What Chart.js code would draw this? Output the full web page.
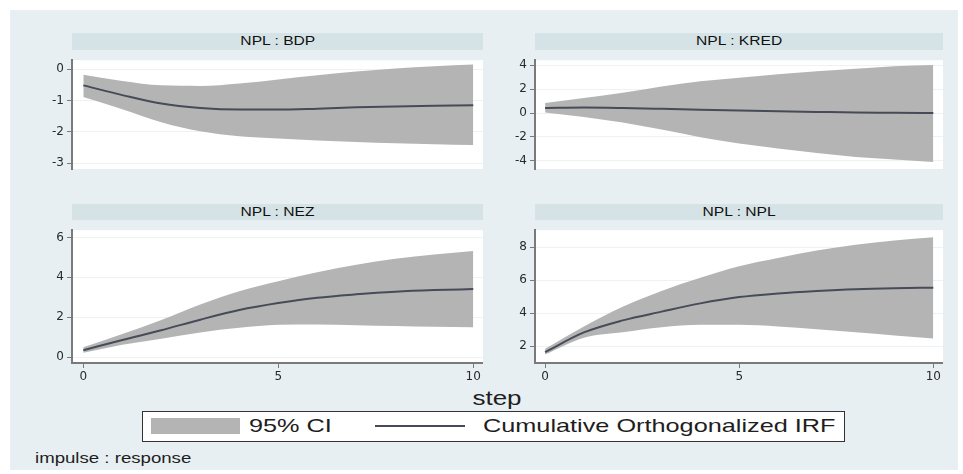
<!DOCTYPE html>
<html>
<head>
<meta charset="utf-8">
<script src="https://cdn.jsdelivr.net/npm/chart.js@4.4.1/dist/chart.umd.min.js"></script>
<style>
    html, body { margin: 0; padding: 0; background: #fff; }
    body { width: 963px; height: 474px; position: relative; overflow: hidden;
           font-family: "Liberation Sans", Arial, sans-serif; color: #1e1e1e; }
    #graph { position: absolute; left: 10px; top: 10px; width: 948px; height: 460px; background: #e8eff2; }
    canvas { position: absolute; }
    .band { position: absolute; background: #d6e3e6; text-align: center; font-size: 12px; color: #111; }
    .band span { display: inline-block; transform: scaleX(1.3); }
    .txt { position: absolute; white-space: nowrap; transform-origin: left center; }
</style>
</head>
<body>
<div id="graph"></div>
<div id="stage"></div>
<script>
'use strict';

// steps of the impulse response
const steps = [0, 1, 2, 3, 4, 5, 6, 7, 8, 9, 10];
const xTicks = [0, 5, 10];

// NPL : BDP
const bdpIrf = [-0.52, -0.83, -1.10, -1.24, -1.29, -1.29, -1.26, -1.22, -1.19, -1.17, -1.15];
const bdpLo = [-0.89, -1.28, -1.69, -1.98, -2.14, -2.21, -2.27, -2.32, -2.36, -2.39, -2.42];
const bdpHi = [-0.18, -0.38, -0.52, -0.54, -0.46, -0.33, -0.20, -0.08, 0.02, 0.09, 0.14];
const bdpTicks = [-3, -2, -1, 0];

// NPL : KRED
const kredIrf = [0.43, 0.47, 0.43, 0.36, 0.28, 0.21, 0.15, 0.10, 0.05, 0.03, 0.00];
const kredLo = [0.06, -0.32, -0.79, -1.38, -2.02, -2.55, -2.97, -3.35, -3.67, -3.88, -4.10];
const kredHi = [0.85, 1.27, 1.70, 2.23, 2.66, 2.97, 3.25, 3.50, 3.71, 3.92, 4.03];
const kredTicks = [-4, -2, 0, 2, 4];

// NPL : NEZ
const nezIrf = [0.35, 0.86, 1.35, 1.88, 2.36, 2.71, 2.98, 3.15, 3.28, 3.36, 3.41];
const nezLo = [0.22, 0.62, 0.93, 1.24, 1.47, 1.62, 1.64, 1.60, 1.56, 1.52, 1.50];
const nezHi = [0.50, 1.16, 1.86, 2.64, 3.30, 3.80, 4.25, 4.63, 4.93, 5.14, 5.32];
const nezTicks = [0, 2, 4, 6];

// NPL : NPL
const nplIrf = [1.65, 2.84, 3.57, 4.10, 4.60, 4.98, 5.20, 5.35, 5.46, 5.52, 5.55];
const nplLo = [1.50, 2.52, 2.85, 3.16, 3.30, 3.30, 3.20, 3.03, 2.85, 2.66, 2.47];
const nplHi = [1.85, 3.20, 4.40, 5.35, 6.15, 6.85, 7.35, 7.80, 8.15, 8.40, 8.60];
const nplTicks = [2, 4, 6, 8];

const BAND = '#b4b4b4';
const LINE = '#464b57';
const AXIS = '#7a7a7a';

const panels = [
    { title: 'NPL : BDP', irf: bdpIrf, lo: bdpLo, hi: bdpHi, yTicks: bdpTicks, yMin: -3.18, yMax: 0.28,
      left: 72, right: 483, top: 50, bottom: 193, bandTop: 33, xMin: -0.29, xMax: 10.25, showX: false },
    { title: 'NPL : KRED', irf: kredIrf, lo: kredLo, hi: kredHi, yTicks: kredTicks, yMin: -4.68, yMax: 4.43,
      left: 535, right: 943, top: 50, bottom: 193, bandTop: 33, xMin: -0.26, xMax: 10.25, showX: false },
    { title: 'NPL : NEZ', irf: nezIrf, lo: nezLo, hi: nezHi, yTicks: nezTicks, yMin: -0.29, yMax: 6.36,
      left: 72, right: 483, top: 220, bottom: 363, bandTop: 204, xMin: -0.29, xMax: 10.25, showX: true },
    { title: 'NPL : NPL', irf: nplIrf, lo: nplLo, hi: nplHi, yTicks: nplTicks, yMin: 0.99, yMax: 9.03,
      left: 535, right: 943, top: 220, bottom: 363, bandTop: 204, xMin: -0.26, xMax: 10.25, showX: true },
];

const Y_AXIS_W = 52;
const X_AXIS_H = 24;

// white plot region behind the data
const plotBg = {
    id: 'plotBg',
    beforeDraw: (chart) => {
        const { ctx, chartArea: a } = chart;
        ctx.save();
        ctx.fillStyle = '#fff';
        ctx.fillRect(a.left, a.top, a.right - a.left, a.bottom - a.top);
        ctx.restore();
    }
};

const stage = document.getElementById('stage');
const pts = (arr) => steps.map((s, i) => ({ x: s, y: arr[i] }));
const tickFont = { family: 'DejaVu Sans', size: 12 };

panels.forEach((p) => {
    const band = document.createElement('div');
    band.className = 'band';
    band.style.left = p.left + 'px';
    band.style.top = p.bandTop + 'px';
    band.style.width = (p.right - p.left) + 'px';
    band.style.height = (p.top - p.bandTop) + 'px';
    band.style.lineHeight = (p.top - p.bandTop) + 'px';
    band.innerHTML = '<span>' + p.title + '</span>';
    stage.appendChild(band);

    const cv = document.createElement('canvas');
    const w = p.right - p.left + Y_AXIS_W;
    const h = p.bottom - p.top + (p.showX ? X_AXIS_H : 0);
    cv.width = w;
    cv.height = h;
    cv.style.left = (p.left - Y_AXIS_W) + 'px';
    cv.style.top = p.top + 'px';
    cv.style.width = w + 'px';
    cv.style.height = h + 'px';
    stage.appendChild(cv);

    new Chart(cv, {
        type: 'line',
        data: {
            datasets: [
                { data: pts(p.irf), borderColor: LINE, borderWidth: 2, pointRadius: 0, fill: false },
                { data: pts(p.hi), borderWidth: 0, pointRadius: 0, backgroundColor: BAND, fill: '+1' },
                { data: pts(p.lo), borderWidth: 0, pointRadius: 0, fill: false }
            ]
        },
        plugins: [plotBg],
        options: {
            responsive: false,
            animation: false,
            devicePixelRatio: 1,
            elements: { line: { cubicInterpolationMode: 'monotone' } },
            layout: { padding: 0, autoPadding: false },
            plugins: { legend: { display: false }, tooltip: { enabled: false } },
            scales: {
                x: {
                    type: 'linear',
                    min: p.xMin,
                    max: p.xMax,
                    display: p.showX,
                    afterBuildTicks: (s) => { s.ticks = xTicks.map(v => ({ value: v })); },
                    afterFit: (s) => { s.height = X_AXIS_H; },
                    grid: { drawOnChartArea: false, tickLength: 5, tickColor: AXIS, tickWidth: 1 },
                    border: { color: AXIS, width: 2 },
                    ticks: { padding: 2, color: '#2a2a2a', font: tickFont, maxRotation: 0 }
                },
                y: {
                    type: 'linear',
                    min: p.yMin,
                    max: p.yMax,
                    afterBuildTicks: (s) => { s.ticks = p.yTicks.map(v => ({ value: v })); },
                    afterFit: (s) => { s.width = Y_AXIS_W; },
                    grid: { color: '#edf2f4', tickLength: 5, tickColor: AXIS, tickWidth: 1 },
                    border: { color: AXIS, width: 2 },
                    ticks: { padding: 3, color: '#2a2a2a', font: tickFont }
                }
            }
        }
    });
});

// axis title, legend and note
const addText = (text, left, top, size, scale, center) => {
    const d = document.createElement('div');
    d.className = 'txt';
    d.textContent = text;
    d.style.left = left + 'px';
    d.style.top = top + 'px';
    d.style.fontSize = size + 'px';
    d.style.lineHeight = size + 'px';
    if (center) {
        d.style.transformOrigin = 'center center';
        d.style.transform = 'translateX(-50%) scaleX(' + scale + ')';
    } else {
        d.style.transform = 'scaleX(' + scale + ')';
    }
    stage.appendChild(d);
    return d;
};

addText('step', 497, 388, 20, 1.3, true);

const box = document.createElement('div');
box.style.cssText = 'position:absolute;left:142px;top:411px;width:703px;height:31px;box-sizing:border-box;border:1px solid #333;background:#fff;';
stage.appendChild(box);
const swatch = document.createElement('div');
swatch.style.cssText = 'position:absolute;left:151px;top:418px;width:89px;height:16px;background:' + BAND + ';';
stage.appendChild(swatch);
const sample = document.createElement('div');
sample.style.cssText = 'position:absolute;left:375px;top:425px;width:90px;height:2px;background:' + LINE + ';';
stage.appendChild(sample);

addText('95% CI', 249, 416, 19, 1.33, false);
addText('Cumulative Orthogonalized IRF', 483, 416, 19, 1.33, false);
addText('impulse : response', 35, 451, 14, 1.33, false);
</script>
</body>
</html>
